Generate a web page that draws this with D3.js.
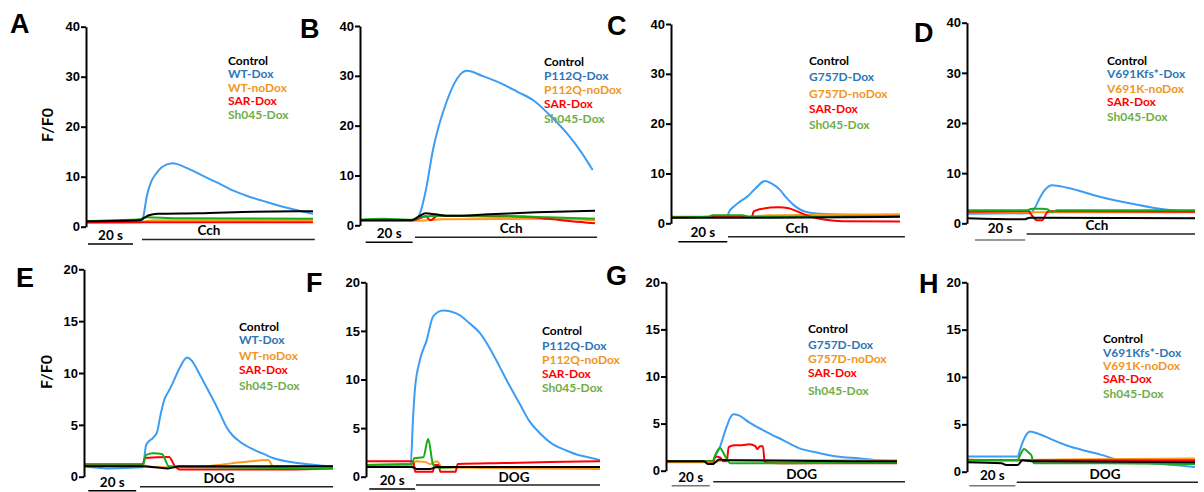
<!DOCTYPE html>
<html>
<head>
<meta charset="utf-8">
<script src="https://cdn.jsdelivr.net/npm/d3@7"></script>
<style>
  body { margin: 0; background: #fff; }
  svg { display: block; }
</style>
</head>
<body>
<div id="chart"></div>
<script>
// ---- data (time in s, value F/F0) ----
const aControl = [[0,1.1],[24,1.3],[26,1.8],[28,2.3],[32,2.6],[50,2.7],[75,3.0],[101,3.1]];
const aDox = [[0,0.8],[24.5,0.9],[25.5,2],[27,6],[29,9],[31,10.5],[34,12],[38.5,12.7],[45,11.7],[51,10.4],[58,8.9],[65,7.3],[72,6.1],[80,5],[86,4.2],[94,3.3],[101,2.6]];
const aNoDox = [[0,1],[25,1],[30,1.3],[101,1.3]];
const aSar = [[0,0.9],[101,0.9]];
const aSh045 = [[0,1.1],[12,1.3],[24,1.5],[27,1.9],[40,1.7],[101,1.6]];

const bControl = [[0,1],[22,1],[25,1.8],[28,2.4],[32,2.2],[38,1.9],[55,2.2],[75,2.6],[100,2.9]];
const bDox = [[0,1],[23,1],[25.5,2.4],[28,7],[31,15],[37,25],[42.5,30.2],[45.5,31],[52,30],[60,28.5],[67,26.8],[74,25],[81,22],[88,18.5],[94,14.8],[99,11.1]];
const bNoDox = [[0,0.9],[25,0.9],[35,1.2],[80,1.3],[100,1.0]];
const bSar = [[0,1],[22,1],[26,1.5],[28,1.8],[30,1.0],[33,1.9],[50,1.8],[70,1.7],[80,1.3],[90,0.8],[100,0.4]];
const bSh045 = [[0,1.1],[10,1.3],[22,1.1],[26,1.7],[35,1.9],[60,1.9],[80,1.6],[100,1.3]];

const cControl = [[0,1.1],[40,1.1],[93.5,1.3]];
const cDox = [[0,1.3],[23,1.3],[23.6,2.2],[26,3.5],[28,4.3],[31,5.3],[34.5,7],[38.4,8.5],[41,8],[44.5,6.7],[47,5.2],[50,3.7],[55,2.3],[61,1.9],[75,1.7],[93.5,1.6]];
const cNoDox = [[0,1.2],[30,1.3],[40,1.6],[60,1.7],[93.5,1.8]];
const cSar = [[0,1.2],[33,1.3],[33.8,2.4],[36,2.8],[44,3.2],[48,3.0],[51,2.5],[55,1.7],[58,1.2],[63,0.7],[70,0.4],[93.5,0.35]];
const cSh045 = [[0,1.2],[15,1.3],[17,1.6],[29,1.6],[32,1.3],[93.5,1.4]];

const dControl = [[0,1.0],[20,0.8],[23,0.8],[25,1.1],[91,1.0]];
const dDox = [[0,1.9],[25,2.0],[27,3],[29,5],[31,6.6],[34,7.6],[40,7.1],[53,5.3],[66,3.9],[80,2.7],[91,2.3]];
const dNoDox = [[0,2.2],[91,2.2]];
const dSar = [[0,2.3],[24.5,2.4],[26,1.5],[28,0.6],[30,0.6],[32,2.2],[33,2.4],[91,2.3]];
const dSh045 = [[0,2.6],[24,2.6],[26,2.9],[30,2.9],[32,2.8],[34,2.2],[36,2.6],[91,2.6]];

const eControl = [[0,1.0],[24,1.0],[30,0.9],[35,0.8],[40,1.0],[104,1.0]];
const eDox = [[0,1.0],[10,0.8],[24.5,0.9],[26,3.1],[29,3.8],[30.5,4.3],[32,6],[33.5,7.4],[35.5,8.3],[37,9],[40,10.5],[43,11.5],[45,11.2],[48,10],[51,8.7],[54,7.4],[57,6],[59.5,4.8],[62,4],[65,3.4],[70,2.7],[75,2.2],[79,1.8],[90,1.3],[104,1.0]];
const eNoDox = [[0,1.1],[24,1.1],[30,0.9],[45,0.9],[55,1.1],[62,1.3],[70,1.5],[77,1.6],[79,1.0],[104,1.0]];
const eSar = [[0,1.2],[24.5,1.2],[25.5,1.8],[35.5,1.9],[38,1.0],[40,0.7],[80,0.7],[104,0.8]];
const eSh045 = [[0,1.1],[24.5,1.1],[26,2.1],[29,2.25],[32.5,2.2],[35.5,1.0],[50,0.9],[104,0.8]];

const fControl = [[0,1.0],[20,1.0],[22,0.8],[28,0.8],[31,1.0],[102,1.0]];
const fDox = [[0,1.2],[19.5,1.3],[20.5,6],[21.3,8.9],[23.5,12],[26.4,14],[29.3,16.5],[33.6,17.1],[37,17],[41,16.6],[45,15.8],[49.6,14.8],[54,13.2],[58.3,11.3],[62.5,9.4],[67,7.5],[71,5.8],[75.7,4.5],[81,3.4],[87.3,2.7],[93,2.2],[98.7,1.9],[102,1.7]];
const fNoDox = [[0,1.2],[20.5,1.2],[21.5,1.6],[26,1.5],[28,1.3],[31,1.6],[33,1.0],[50,0.9],[102,0.8]];
const fSar = [[0,1.6],[20.5,1.6],[21.5,0.5],[29,0.5],[30,1.2],[31.5,1.2],[32.5,0.5],[39,0.5],[40,1.3],[60,1.4],[80,1.5],[102,1.6]];
const fSh045 = [[0,1.2],[20,1.3],[21,1.9],[25,2.0],[27.1,3.9],[29.3,1.2],[32,0.9],[40,1.0],[102,1.0]];

const gControl = [[0,1.0],[20,1.0],[22,0.7],[24.5,0.7],[28,1.2],[33,1.1],[121.6,1.0]];
const gDox = [[0,1.0],[24.5,1.0],[26,1.6],[28.4,2.5],[30,3.5],[32,4.7],[34,5.7],[35.5,6.0],[38,5.9],[44,5.1],[53,4.1],[62,3.2],[70,2.4],[80,1.9],[90,1.5],[102,1.3],[112,1.1],[121.6,1.0]];
const gNoDox = [[0,0.9],[25,0.9],[30,1.1],[121.6,1.1]];
const gSar = [[0,1.0],[25,1.0],[26,1.5],[28.5,1.4],[30,1.0],[32,1.0],[33,2.5],[36,2.7],[40,2.7],[44,2.8],[47,2.6],[48,2.3],[49.5,2.6],[51,2.6],[52,0.9],[60,0.8],[121.6,0.8]];
const gSh045 = [[0,1.0],[24.5,1.0],[26,1.7],[28.4,2.4],[31,1.6],[33.7,0.8],[60,0.8],[121.6,0.9]];

const hControl = [[0,1.0],[15,0.9],[17,0.7],[22,0.7],[24,1.2],[28,1.1],[99,1.0]];
const hDox = [[0,1.6],[22,1.6],[23,2.3],[24.5,3.3],[26,4.0],[27.4,4.25],[31,4.0],[36,3.5],[43,2.8],[50,2.3],[58,1.8],[65,1.3],[72,1.0],[80,0.9],[90,0.7],[99,0.5]];
const hNoDox = [[0,1.3],[22,1.2],[40,1.3],[99,1.4]];
const hSar = [[0,1.2],[99,1.2]];
const hSh045 = [[0,1.2],[22,1.2],[23,1.7],[24.8,2.4],[26.8,2.0],[28,1.7],[29,0.9],[60,0.9],[99,0.8]];

const panelLetters = ["A","B","C","D","E","F","G","H"];
const legWT = ["Control","WT-Dox","WT-noDox","SAR-Dox","Sh045-Dox"];
const legP112Q = ["Control","P112Q-Dox","P112Q-noDox","SAR-Dox","Sh045-Dox"];
const legG757D = ["Control","G757D-Dox","G757D-noDox","SAR-Dox","Sh045-Dox"];
const legV691 = ["Control","V691Kfs*-Dox","V691K-noDox","SAR-Dox","Sh045-Dox"];
const legends = [legWT, legP112Q, legG757D, legV691, legWT, legP112Q, legG757D, legV691];
const stimLabels = ["Cch","Cch","Cch","Cch","DOG","DOG","DOG","DOG"];
const ticksTop = [0,10,20,30,40];
const ticksBottom = [0,5,10,15,20];
const tMaxes = [101,100,93.5,91,104,102,121.6,99];
const barStarts = [0.9,2.4,3.0,3.2,1.8,1.4,3.0,1.0];
const stimStarts = [24.9,23.4,23.3,23.8,23.4,21.8,24.9,21.6];
const stimEnds = [101.8,100.9,95.5,91,104,102,125.8,100.3];
const stimLabelT = [54.7,64.3,51.4,51.9,56.4,64.5,71.4,59.9];

const traces = [
  [aDox,aNoDox,aSar,aSh045,aControl],
  [bDox,bNoDox,bSar,bSh045,bControl],
  [cDox,cNoDox,cSar,cSh045,cControl],
  [dDox,dNoDox,dSar,dSh045,dControl],
  [eDox,eNoDox,eSar,eSh045,eControl],
  [fDox,fNoDox,fSar,fSh045,fControl],
  [gDox,gNoDox,gSar,gSh045,gControl],
  [hDox,hNoDox,hSar,hSh045,hControl]
];

// ---- styles / layout ----
const lineColors = ["#3d9df2","#ff9a1e","#ff0000","#19aa19","#000000"]; // dox, noDox, sar, sh045, control
const textColors = ["#000000","#2e75b6","#f0961e","#ff0000","#70ad47"]; // legend order
const tickFont = "'Liberation Sans', Arial, sans-serif";
const labFont = "Lato, 'Open Sans', sans-serif";

const layout = [
  {x0:86,  x1:313, yTop:26.7,  y0:226.7, letter:[10,33],   leg:[228,[65,78,91.5,105,119]],  barY:244,   stimY:239.5, barTY:240,   stimTY:235,   barCol:"#000"},
  {x0:360, x1:595, yTop:26,    y0:225.3, letter:[300,38],  leg:[544,[66,80,94,108,122.5]],  barY:242.3, stimY:237.3, barTY:238,   stimTY:233,   barCol:"#000"},
  {x0:671, x1:900, yTop:24,    y0:223.3, letter:[607,35],  leg:[809,[65,81,98,113,129]],    barY:241.7, stimY:236.7, barTY:237.3, stimTY:232.7, barCol:"#000"},
  {x0:967, x1:1195,yTop:22.7,  y0:223.3, letter:[914,42],  leg:[1107,[65,78,93,106,121]],   barY:240,   stimY:234,   barTY:233.3, stimTY:230,   barCol:"#777"},
  {x0:84,  x1:333, yTop:269.3, y0:476.7, letter:[16,287],  leg:[239,[331,344,360,374,390]], barY:490.7, stimY:486.7, barTY:487.3, stimTY:483.3, barCol:"#000"},
  {x0:366, x1:600, yTop:282.3, y0:476.7, letter:[306,292], leg:[542,[335,350,363.5,377.5,392]], barY:489, stimY:485, barTY:485, stimTY:481.7, barCol:"#000"},
  {x0:666, x1:897, yTop:282.3, y0:470.7, letter:[606,285], leg:[808,[333,349,362.5,377,395]], barY:485.7, stimY:481.7, barTY:481.7, stimTY:479.3, barCol:"#777"},
  {x0:967, x1:1195,yTop:282.3, y0:471.7, letter:[919,293], leg:[1103,[343,356.5,370,383,398]], barY:485.7, stimY:482.3, barTY:480, stimTY:479.3, barCol:"#777"}
];

const svg = d3.select("#chart").append("svg")
  .attr("width", 1204)
  .attr("height", 492);

layout.forEach(function (p, i) {
  const top = i < 4;
  const x = d3.scaleLinear().domain([0, tMaxes[i]]).range([p.x0, p.x1]);
  const y = d3.scaleLinear().domain([0, top ? 40 : 20]).range([p.y0, p.yTop]);
  const g = svg.append("g");

  // traces
  const line = d3.line()
    .x(function (d) { return x(d[0]); })
    .y(function (d) { return y(d[1]); })
    .curve(d3.curveMonotoneX);
  traces[i].forEach(function (s, k) {
    g.append("path")
      .attr("d", line(s))
      .attr("fill", "none")
      .attr("stroke", lineColors[k])
      .attr("stroke-width", 2)
      .attr("stroke-linejoin", "round");
  });

  // y axis
  const ax = g.append("g")
    .attr("transform", "translate(" + p.x0 + ",0)")
    .call(d3.axisLeft(y).tickValues(top ? ticksTop : ticksBottom).tickSize(5).tickSizeOuter(0).tickPadding(1));
  ax.select(".domain").attr("stroke-width", 2);
  ax.selectAll(".tick line").attr("stroke-width", 2);
  ax.selectAll(".tick text")
    .attr("font-family", tickFont)
    .attr("font-weight", "bold")
    .attr("font-size", 13)
    .attr("fill", "#000");

  // panel letter
  g.append("text")
    .attr("x", p.letter[0])
    .attr("y", p.letter[1])
    .attr("font-family", tickFont)
    .attr("font-weight", "bold")
    .attr("font-size", 27)
    .text(panelLetters[i]);

  // legend
  legends[i].forEach(function (name, k) {
    g.append("text")
      .attr("x", p.leg[0])
      .attr("y", p.leg[1][k])
      .attr("font-family", labFont)
      .attr("font-weight", "bold")
      .attr("font-size", 12)
      .attr("fill", textColors[k])
      .text(name);
  });

  // 20 s scale bar
  g.append("line")
    .attr("x1", x(barStarts[i])).attr("x2", x(barStarts[i] + 20))
    .attr("y1", p.barY).attr("y2", p.barY)
    .attr("stroke", p.barCol).attr("stroke-width", 1.5);
  g.append("text")
    .attr("x", x(barStarts[i] + 10))
    .attr("y", p.barTY)
    .attr("text-anchor", "middle")
    .attr("font-family", labFont)
    .attr("font-weight", "bold")
    .attr("font-size", 13.5)
    .text("20 s");

  // stimulus bar
  g.append("line")
    .attr("x1", x(stimStarts[i])).attr("x2", x(stimEnds[i]))
    .attr("y1", p.stimY).attr("y2", p.stimY)
    .attr("stroke", "#222").attr("stroke-width", 1.5);
  g.append("text")
    .attr("x", x(stimLabelT[i]))
    .attr("y", p.stimTY)
    .attr("text-anchor", "middle")
    .attr("font-family", labFont)
    .attr("font-weight", "bold")
    .attr("font-size", 13.5)
    .text(stimLabels[i]);
});

// y labels
[[47,125],[46,372]].forEach(function (c) {
  svg.append("text")
    .attr("transform", "translate(" + c[0] + "," + c[1] + ") rotate(-90)")
    .attr("text-anchor", "middle")
    .attr("dy", "0.35em")
    .attr("font-family", labFont)
    .attr("font-weight", "bold")
    .attr("font-size", 16)
    .text("F/F0");
});
</script>
</body>
</html>
